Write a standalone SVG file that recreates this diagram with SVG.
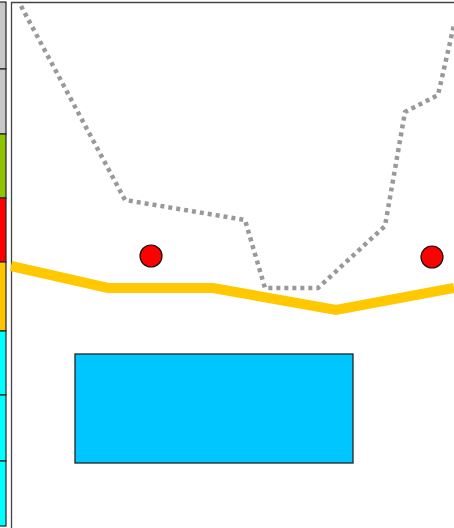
<svg xmlns="http://www.w3.org/2000/svg" width="454" height="528" viewBox="0 0 454 528">
<style>
.leg{stroke:#222;stroke-width:1.2}
.dot{fill:#ff0000;stroke:#111;stroke-width:1.2}
</style>
<rect width="454" height="528" fill="#fff"/>
<g id="legend">
<rect class="leg" x="-1" y="2" width="7" height="67" fill="#c8c8c8"/>
<rect class="leg" x="-1" y="69" width="7" height="65" fill="#c8c8c8"/>
<rect class="leg" x="-1" y="134" width="7" height="64" fill="#8fc400"/>
<rect class="leg" x="-1" y="198" width="7" height="64" fill="#ff0000"/>
<rect class="leg" x="-1" y="262" width="7" height="69" fill="#ffc400"/>
<rect class="leg" x="-1" y="331" width="7" height="64" fill="#00ffff"/>
<rect class="leg" x="-1" y="395" width="7" height="66" fill="#00ffff"/>
<rect class="leg" x="-1" y="461" width="7" height="65" fill="#00ffff"/>
</g>
<g id="frame">
<path d="M11.5,528 V2.5 H454" fill="none" stroke="#444" stroke-width="1.3"/>
</g>
<g id="area">
<rect x="75" y="354" width="278" height="109" fill="#00c6ff" stroke="#222" stroke-width="1.3"/>
</g>
<g id="connectors">
<path d="M21,6 L125,200 L245,220 L265,288 L318,288 L385,226 L405,112 L438,95 L454,25" fill="none" stroke="#999" stroke-width="4.5" stroke-dasharray="4,4"/>
<path d="M11,266 L108,288 L213,288 L336,310 L454,288" fill="none" stroke="#ffc800" stroke-width="10"/>
</g>
<g id="p1"><circle class="dot" cx="151" cy="256" r="11"/></g>
<g id="p2"><circle class="dot" cx="432" cy="257" r="11"/></g>
</svg>
